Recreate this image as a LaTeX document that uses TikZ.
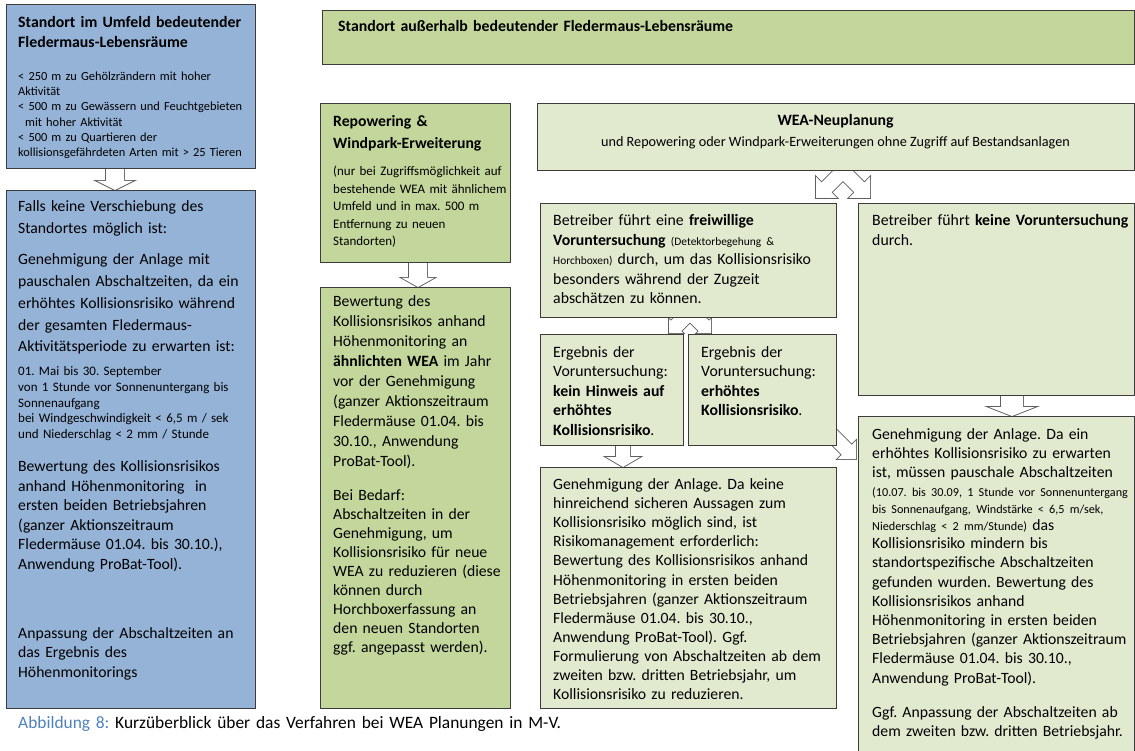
\documentclass[tikz,border=0pt]{standalone}
\usepackage{fontspec}
\setmainfont{Carlito}
\usetikzlibrary{calc}
\definecolor{batblue}{HTML}{95B3D7}
\definecolor{olivemid}{HTML}{C3D69B}
\definecolor{olivepale}{HTML}{E1EACF}
\definecolor{edge}{HTML}{3C3C3C}
\definecolor{arrowgray}{HTML}{5F5F5F}
\definecolor{capblue}{HTML}{4F81BD}
\pgfdeclarelayer{background}
\pgfsetlayers{background,main}
\frenchspacing
\newcommand{\klein}[2]{{\fontsize{#1}{#1}\selectfont #2}}

\begin{document}
\begin{tikzpicture}[x=1pt, y=-1pt,
    panel/.style={draw=edge, line width=0.9pt, anchor=north west, inner sep=0pt},
    txt/.style={anchor=base west, align=left, inner sep=0pt, text width=600pt},
    sz/.style 2 args={font=\fontsize{#1}{#2}\selectfont},
    blockarrow/.style n args={3}{to path={
        ($(\tikztostart)!#1!90:(\tikztotarget)$)
        -- ($(\tikztotarget)!#3!(\tikztostart)!#1!90:(\tikztotarget)$)
        -- ($(\tikztotarget)!#3!(\tikztostart)!#2!90:(\tikztotarget)$)
        -- (\tikztotarget)
        -- ($(\tikztotarget)!#3!(\tikztostart)!#2!-90:(\tikztotarget)$)
        -- ($(\tikztotarget)!#3!(\tikztostart)!#1!-90:(\tikztotarget)$)
        -- ($(\tikztostart)!#1!-90:(\tikztotarget)$) -- cycle}},
    arrowline/.style={draw=arrowgray, line width=1.8pt, line join=miter},
    arrowfill/.style={fill=white}]
    \useasboundingbox (0,0) rectangle (1135,751);

    % left column: site near important bat habitats
    \node[panel, fill=batblue, minimum width=249pt, minimum height=164pt] (umfeld) at (6,4) {};
    \node[txt, sz={15.8}{20}] (umfeldhead) at (18,28) {\textbf{Standort im Umfeld bedeutender\\Fledermaus-Lebensräume}};
    \node[txt, sz={12.4}{15.2}] (umfeldlist) at (18,80.5) {< 250 m zu Gehölzrändern mit hoher\\Aktivität\\< 500 m zu Gewässern und Feuchtgebieten\\\hspace*{7pt}mit hoher Aktivität\\< 500 m zu Quartieren der\\kollisionsgefährdeten Arten mit > 25 Tieren};

    \node[panel, fill=batblue, minimum width=249pt, minimum height=518pt] (falls) at (6,190) {};
    \node[txt, sz={15.7}{21.7}] (fallsA) at (18,211.5) {Falls keine Verschiebung des\\Standortes möglich ist:};
    \node[txt, sz={15.7}{21.7}] (fallsB) at (18,265) {Genehmigung der Anlage mit\\pauschalen Abschaltzeiten, da ein\\erhöhtes Kollisionsrisiko während\\der gesamten Fledermaus-\\Aktivitätsperiode zu erwarten ist:};
    \node[txt, sz={13}{15.8}] (fallsC) at (18,375.5) {01. Mai bis 30. September\\von 1 Stunde vor Sonnenuntergang bis\\Sonnenaufgang\\bei Windgeschwindigkeit < 6,5 m / sek\\und Niederschlag < 2 mm / Stunde};
    \node[txt, sz={15.7}{19.5}] (fallsD) at (18,471.5) {Bewertung des Kollisionsrisikos\\anhand Höhenmonitoring~ in\\ersten beiden Betriebsjahren\\(ganzer Aktionszeitraum\\Fledermäuse 01.04. bis 30.10.),\\Anwendung ProBat-Tool).};
    \node[txt, sz={15.7}{19.5}] (fallsE) at (18,638) {Anpassung der Abschaltzeiten an\\das Ergebnis des\\Höhenmonitorings};

    % site outside important bat habitats
    \node[panel, fill=olivemid, minimum width=812pt, minimum height=54pt] (ausser) at (322,10) {};
    \node[txt, sz={15.8}{19}] (ausserhead) at (338,32) {\textbf{Standort außerhalb bedeutender Fledermaus-Lebensräume}};

    \node[panel, fill=olivemid, minimum width=190pt, minimum height=159pt] (repow) at (320,103) {};
    \node[txt, sz={15.7}{21.7}] (repowhead) at (333,126.5) {\textbf{Repowering \&\\Windpark-Erweiterung}};
    \node[txt, sz={13}{17.5}] (repownote) at (333,175.7) {(nur bei Zugriffsmöglichkeit auf\\bestehende WEA mit ähnlichem\\Umfeld und in max. 500 m\\Entfernung zu neuen\\Standorten)};

    \node[panel, fill=olivemid, minimum width=190pt, minimum height=421pt] (bewert) at (320,287) {};
    \node[txt, sz={15.7}{20}] (bewertA) at (333,306.5) {Bewertung des\\Kollisionsrisikos anhand\\Höhenmonitoring an\\\textbf{ähnlichten WEA} im Jahr\\vor der Genehmigung\\(ganzer Aktionszeitraum\\Fledermäuse 01.04. bis\\30.10., Anwendung\\ProBat-Tool).};
    \node[txt, sz={15.7}{19}] (bewertB) at (333,500) {Bei Bedarf:\\Abschaltzeiten in der\\Genehmigung, um\\Kollisionsrisiko für neue\\WEA zu reduzieren (diese\\können durch\\Horchboxerfassung an\\den neuen Standorten\\ggf. angepasst werden).};

    \node[panel, fill=olivepale, minimum width=597pt, minimum height=67pt] (neu) at (537,103) {};
    \node[anchor=base, inner sep=0pt, sz={15.8}{19}] (neuhead) at (835.5,126) {\textbf{WEA-Neuplanung}};
    \node[anchor=base, inner sep=0pt, sz={14.2}{17}] (neusub) at (835.5,146.5) {und Repowering oder Windpark-Erweiterungen ohne Zugriff auf Bestandsanlagen};

    \node[panel, fill=olivepale, minimum width=296pt, minimum height=114pt] (frei) at (540,203) {};
    \node[txt, sz={15.8}{19.5}] (freitxt) at (553,226) {Betreiber führt eine \textbf{freiwillige}\\\textbf{Voruntersuchung} \klein{11.4}{(Detektorbegehung \&}\\\klein{11.4}{Horchboxen)} durch, um das Kollisionsrisiko\\besonders während der Zugzeit\\abschätzen zu können.};

    \node[panel, fill=olivepale, minimum width=276pt, minimum height=192pt] (keine) at (858,203) {};
    \node[txt, sz={15.8}{19.5}] (keinetxt) at (872,226) {Betreiber führt \textbf{keine Voruntersuchung}\\durch.};

    \node[panel, fill=olivepale, minimum width=143pt, minimum height=111pt] (kein) at (540,334) {};
    \node[txt, sz={15.8}{19.5}] (keintxt) at (553,357) {Ergebnis der\\Voruntersuchung:\\\textbf{kein Hinweis auf}\\\textbf{erhöhtes}\\\textbf{Kollisionsrisiko}.};

    \node[panel, fill=olivepale, minimum width=148pt, minimum height=111pt] (erh) at (688,334) {};
    \node[txt, sz={15.8}{19.5}] (erhtxt) at (701,357) {Ergebnis der\\Voruntersuchung:\\\textbf{erhöhtes}\\\textbf{Kollisionsrisiko}.};

    \node[panel, fill=olivepale, minimum width=296pt, minimum height=241pt] (genl) at (540,467) {};
    \node[txt, sz={15.7}{19.1}] (genltxt) at (553,489.5) {Genehmigung der Anlage. Da keine\\hinreichend sicheren Aussagen zum\\Kollisionsrisiko möglich sind, ist\\Risikomanagement erforderlich:\\Bewertung des Kollisionsrisikos anhand\\Höhenmonitoring in ersten beiden\\Betriebsjahren (ganzer Aktionszeitraum\\Fledermäuse 01.04. bis 30.10.,\\Anwendung ProBat-Tool). Ggf.\\Formulierung von Abschaltzeiten ab dem\\zweiten bzw. dritten Betriebsjahr, um\\Kollisionsrisiko zu reduzieren.};

    \node[panel, fill=olivepale, minimum width=276pt, minimum height=345pt] (genr) at (858,416) {};
    \node[txt, sz={15.7}{19.2}] (genrtxt) at (872,439) {Genehmigung der Anlage. Da ein\\erhöhtes Kollisionsrisiko zu erwarten\\ist, müssen pauschale Abschaltzeiten\\\klein{12.2}{(10.07. bis 30.09, 1 Stunde vor Sonnenuntergang}\\[-2.2pt]\klein{12.2}{bis Sonnenaufgang, Windstärke < 6,5 m/sek,}\\[-2.2pt]\klein{12.2}{Niederschlag < 2 mm/Stunde)} das\\[-1.2pt]Kollisionsrisiko mindern bis\\standortspezifische Abschaltzeiten\\gefunden wurden. Bewertung des\\Kollisionsrisikos anhand\\Höhenmonitoring in ersten beiden\\Betriebsjahren (ganzer Aktionszeitraum\\Fledermäuse 01.04. bis 30.10.,\\Anwendung ProBat-Tool).\\[15pt]Ggf. Anpassung der Abschaltzeiten ab\\dem zweiten bzw. dritten Betriebsjahr.};

    \node[txt, sz={17.4}{20}] (caption) at (18,728) {\textcolor{capblue}{Abbildung 8:} Kurzüberblick über das Verfahren bei WEA Planungen in M-V.};

    % block arrows, behind the boxes
    \coordinate (ab0) at (115,160);  \coordinate (ab1) at (ab0 |- falls.north);
    \coordinate (rp0) at (418,255);  \coordinate (rp1) at (rp0 |- bewert.north);
    \coordinate (nl0) at (857,157);  \coordinate (nl1) at (816,198);
    \coordinate (nr0) at (829,157);  \coordinate (nr1) at (870,198);
    \coordinate (fl0) at (697,305);  \coordinate (fl1) at (669,333);
    \coordinate (fr0) at (683,305);  \coordinate (fr1) at (711,333);
    \coordinate (kb0) at (623,440);  \coordinate (kb1) at (kb0 |- genl.north);
    \coordinate (eg0) at (822,425);  \coordinate (eg1) at (856,459);
    \coordinate (kg0) at (1012,388); \coordinate (kg1) at (kg0 |- genr.north);
    \def\arrowlist{ab0/ab1/9pt/18pt/9pt, rp0/rp1/9pt/16pt/9pt,
        nl0/nl1/7pt/15pt/15pt, nr0/nr1/7pt/15pt/15pt,
        fl0/fl1/7.4pt/10pt/10pt, fr0/fr1/7.4pt/10pt/10pt,
        kb0/kb1/7pt/17pt/10pt, eg0/eg1/7pt/13pt/13pt, kg0/kg1/11pt/23pt/9pt}
    \begin{pgfonlayer}{background}
        \fill[white] (0,0) rectangle (1135,751);
        \foreach \a/\b/\s/\h/\l in \arrowlist
            \path[arrowline] (\a) to[blockarrow={\s}{\h}{\l}] (\b);
        \foreach \a/\b/\s/\h/\l in \arrowlist
            \path[arrowfill] (\a) to[blockarrow={\s}{\h}{\l}] (\b);
    \end{pgfonlayer}
\end{tikzpicture}
\end{document}
